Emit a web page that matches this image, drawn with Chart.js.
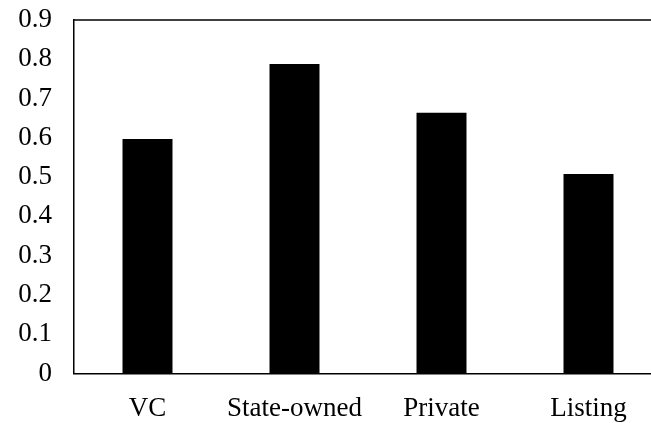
<!DOCTYPE html>
<html>
<head>
<meta charset="utf-8">
<script src="https://cdn.jsdelivr.net/npm/chart.js@4.4.1/dist/chart.umd.min.js"></script>
<style>
  html, body { margin: 0; padding: 0; background: #fff; overflow: hidden; }
  #wrap { width: 665px; height: 423px; }
</style>
</head>
<body>
<div id="wrap"><canvas id="chart"></canvas></div>
<script>
const categories = ['VC', 'State-owned', 'Private', 'Listing'];
const values = [0.597, 0.788, 0.664, 0.508];
const yTicks = [0, 0.1, 0.2, 0.3, 0.4, 0.5, 0.6, 0.7, 0.8, 0.9];

// top edge of the frame (the plot is boxed at top and left)
const topBorder = {
  id: 'topBorder',
  afterDraw(chart) {
    const ctx = chart.ctx;
    const area = chart.chartArea;
    ctx.save();
    ctx.strokeStyle = '#000';
    ctx.lineWidth = 1.5;
    ctx.beginPath();
    ctx.moveTo(area.left, area.top);
    ctx.lineTo(area.right, area.top);
    ctx.stroke();
    ctx.restore();
  },
};

const font = { family: '"Liberation Serif", "Times New Roman", serif', size: 27 };

new Chart(document.getElementById('chart'), {
  type: 'bar',
  data: {
    labels: categories,
    datasets: [{
      data: values,
      backgroundColor: '#000',
      borderWidth: 0,
      barPercentage: 0.34,
      categoryPercentage: 1,
    }],
  },
  options: {
    responsive: true,
    maintainAspectRatio: false,
    animation: false,
    layout: { padding: { top: 20, right: 3, bottom: 0, left: 18 } },
    plugins: { legend: { display: false }, tooltip: { enabled: false } },
    scales: {
      x: {
        afterFit(axis) {
          axis.height = 49.5;
          axis.paddingLeft = 0;
          axis.paddingRight = 0;
        },
        grid: { display: false, drawTicks: false },
        border: { display: true, color: '#000', width: 1.5 },
        ticks: { color: '#000', font: font, padding: 19, maxRotation: 0 },
      },
      y: {
        min: 0,
        max: 0.9,
        afterBuildTicks(axis) { axis.ticks = yTicks.map(v => ({ value: v })); },
        afterFit(axis) {
          axis.width = 56;
          axis.paddingTop = 0;
          axis.paddingBottom = 0;
        },
        grid: { display: false, drawTicks: false },
        border: { display: true, color: '#000', width: 1.5 },
        ticks: {
          color: '#000',
          font: font,
          padding: 22,
          autoSkip: false,
          callback: v => (v === 0 ? '0' : v.toFixed(1)),
        },
      },
    },
  },
  plugins: [topBorder],
});
</script>
</body>
</html>
